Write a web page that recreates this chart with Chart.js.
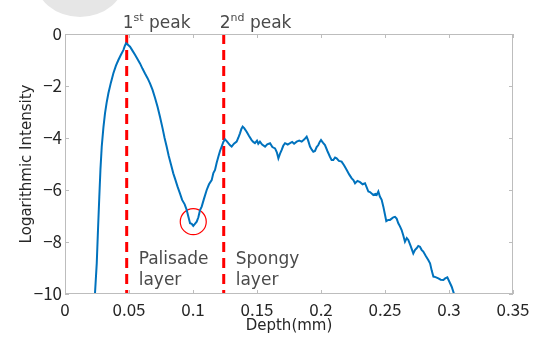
<!DOCTYPE html>
<html>
<head>
<meta charset="utf-8">
<script src="https://cdn.jsdelivr.net/npm/chart.js@4"></script>
<style>
  body { margin: 0; background: #fff; }
  #wrap { position: relative; width: 535px; height: 338px; }
  #blob { position: absolute; left: 35px; top: -60px; width: 90px; height: 77px;
          border-radius: 50%; background: #e6e6e6; }
  canvas { position: absolute; left: 0; top: 0; }
</style>
</head>
<body>
<div id="wrap">
  <div id="blob"></div>
  <canvas id="depthplot"></canvas>
</div>
<script>
const depth = [
  0.0226, 0.0234, 0.0248, 0.0258, 0.0268, 0.0277, 0.0287, 0.0300, 0.03125, 0.0325,
  0.0339, 0.0358, 0.0378, 0.0398, 0.0417, 0.0437, 0.0456, 0.0468, 0.0477, 0.0488,
  0.0498, 0.0508, 0.0527, 0.0547, 0.0566, 0.0586, 0.0605, 0.0625, 0.0645, 0.0664,
  0.0684, 0.0703, 0.0723, 0.0742, 0.0762, 0.0778, 0.0794, 0.0810, 0.0828, 0.0846,
  0.0862, 0.0880, 0.0898, 0.0915, 0.0935, 0.0951, 0.0965, 0.0977, 0.0990, 0.1002,
  0.1015, 0.1029, 0.1042, 0.1055, 0.1068, 0.1085, 0.1107, 0.1125, 0.1146, 0.1159,
  0.1172, 0.1185, 0.1198, 0.1211, 0.1224, 0.1237, 0.1250, 0.1263, 0.1276, 0.1290,
  0.1302, 0.1320, 0.1341, 0.1355, 0.1367, 0.1378, 0.1388, 0.1400, 0.1419, 0.1438,
  0.1458, 0.1471, 0.1484, 0.1500, 0.1510, 0.1523, 0.1540, 0.1563, 0.1580, 0.1602,
  0.1620, 0.1641, 0.1655, 0.1667, 0.1680, 0.1693, 0.1705, 0.1719, 0.1740, 0.1758,
  0.1775, 0.1790, 0.1810, 0.1830, 0.1849, 0.1870, 0.1888, 0.1900, 0.1914, 0.1928,
  0.1940, 0.1953, 0.1966, 0.1979, 0.1990, 0.2000, 0.2015, 0.2031, 0.2050, 0.2070,
  0.2083, 0.2096, 0.2110, 0.2122, 0.2140, 0.2161, 0.2180, 0.2201, 0.2220, 0.2240,
  0.2253, 0.2266, 0.2285, 0.2305, 0.2325, 0.2344, 0.2357, 0.2370, 0.2383, 0.2409,
  0.2425, 0.2435, 0.2448, 0.2460, 0.2474, 0.2487, 0.2500, 0.2510, 0.2525, 0.2539,
  0.2552, 0.2565, 0.2578, 0.2591, 0.2604, 0.2617, 0.2630, 0.2643, 0.2656, 0.2670,
  0.2682, 0.2700, 0.2721, 0.2735, 0.2747, 0.2760, 0.2773, 0.2786, 0.2799, 0.2820,
  0.2838, 0.2852, 0.2865, 0.2878, 0.2895, 0.2917, 0.2935, 0.2956, 0.2970, 0.2987,
  0.3003, 0.3021, 0.3042, 0.3050
]
const logIntensity = [
  -10.6, -10.0, -8.82, -7.5, -6.26, -5.2, -4.33, -3.6, -3.05, -2.65,
  -2.28, -1.88, -1.51, -1.22, -1.0, -0.80, -0.62, -0.45, -0.36, -0.40,
  -0.44, -0.49, -0.64, -0.80, -0.96, -1.13, -1.33, -1.52, -1.70, -1.90,
  -2.15, -2.45, -2.80, -3.18, -3.62, -4.0, -4.33, -4.68, -5.02, -5.36,
  -5.60, -5.88, -6.13, -6.38, -6.55, -6.77, -7.05, -7.28, -7.30, -7.38,
  -7.30, -7.22, -7.05, -6.77, -6.64, -6.35, -6.0, -5.78, -5.62, -5.35,
  -5.23, -4.95, -4.72, -4.50, -4.33, -4.15, -4.05, -4.12, -4.20, -4.28,
  -4.33, -4.22, -4.14, -3.98, -3.82, -3.65, -3.56, -3.62, -3.76, -3.92,
  -4.08, -4.15, -4.20, -4.10, -4.22, -4.14, -4.25, -4.33, -4.24, -4.20,
  -4.35, -4.40, -4.55, -4.78, -4.60, -4.46, -4.30, -4.20, -4.25, -4.20,
  -4.15, -4.22, -4.14, -4.10, -4.14, -4.05, -3.95, -4.10, -4.33, -4.45,
  -4.53, -4.50, -4.35, -4.27, -4.15, -4.08, -4.18, -4.27, -4.50, -4.72,
  -4.85, -4.85, -4.75, -4.78, -4.88, -4.91, -5.05, -5.23, -5.40, -5.55,
  -5.62, -5.74, -5.65, -5.70, -5.78, -5.74, -5.90, -6.06, -6.08, -6.19,
  -6.15, -6.19, -6.06, -6.25, -6.38, -6.64, -6.95, -7.20, -7.15, -7.15,
  -7.10, -7.05, -7.03, -7.10, -7.28, -7.40, -7.54, -7.75, -7.99, -7.85,
  -7.92, -8.15, -8.44, -8.30, -8.24, -8.15, -8.18, -8.30, -8.37, -8.55,
  -8.69, -8.82, -9.10, -9.33, -9.35, -9.40, -9.45, -9.46, -9.40, -9.36,
  -9.53, -9.72, -10.04, -10.3
]
// peak depths and the marked minimum
const peakDepths = [0.0482, 0.124]
const peakNames = [["1", "st"], ["2", "nd"]]
const minimum = {x: 0.1002, y: -7.22}
const layerNames = [["Palisade", "layer"], ["Spongy", "layer"]]

const TICKFONT = '"Noto Sans CJK JP", "Noto Sans", sans-serif'
const TEXTFONT = '"DejaVu Sans", sans-serif'

function fmtTick(v) {
  const s = String(Number(v.toFixed(2)))
  return s.replace('-', '\u2212')
}

// box around the plot with MATLAB style inward ticks, plus the annotations
const boxPlugin = {
  id: 'box',
  afterDatasetsDraw(chart) {
    const {ctx, chartArea: a, scales} = chart
    ctx.save()
    ctx.strokeStyle = '#bdbdbd'
    ctx.lineWidth = 1
    ctx.strokeRect(a.left + 0.5, a.top + 0.5, a.right - a.left - 1, a.bottom - a.top - 1)
    ctx.beginPath()
    scales.x.ticks.forEach(t => {
      const px = Math.round(scales.x.getPixelForValue(t.value)) + 0.5
      ctx.moveTo(px, a.bottom); ctx.lineTo(px, a.bottom - 4)
      ctx.moveTo(px, a.top); ctx.lineTo(px, a.top + 4)
    })
    scales.y.ticks.forEach(t => {
      const py = Math.round(scales.y.getPixelForValue(t.value)) + 0.5
      ctx.moveTo(a.left, py); ctx.lineTo(a.left + 4, py)
      ctx.moveTo(a.right, py); ctx.lineTo(a.right - 4, py)
    })
    ctx.stroke()
    ctx.restore()
  },
  afterDraw(chart) {
    const {ctx, chartArea: a, scales} = chart
    ctx.save()
    ctx.fillStyle = '#4a4a4a'
    ctx.textBaseline = 'alphabetic'
    // peak labels above the plot
    peakDepths.forEach((d, i) => {
      let x = scales.x.getPixelForValue(d) - 4
      const y = a.top - 6
      ctx.font = '17px ' + TEXTFONT
      ctx.fillText(peakNames[i][0], x, y)
      x += ctx.measureText(peakNames[i][0]).width
      ctx.font = '11px ' + TEXTFONT
      ctx.fillText(peakNames[i][1], x, y - 7)
      x += ctx.measureText(peakNames[i][1]).width
      ctx.font = '17px ' + TEXTFONT
      ctx.fillText(' peak', x, y)
    })
    // layer names between the dashed lines
    ctx.font = '17px ' + TEXTFONT
    layerNames.forEach((lines, i) => {
      const x = scales.x.getPixelForValue(peakDepths[i]) + 12
      lines.forEach((txt, j) => {
        ctx.fillText(txt, x, scales.y.getPixelForValue(-8.85) + j * 21)
      })
    })
    ctx.restore()
  }
}

const peakSets = peakDepths.map(d => ({
  data: [{x: d, y: 0}, {x: d, y: -10}],
  showLine: true,
  borderColor: '#ff0000',
  borderWidth: 3,
  borderDash: [10, 6],
  pointRadius: 0
}))

new Chart(document.getElementById('depthplot'), {
  type: 'scatter',
  data: {
    datasets: [
      {
        data: depth.map((d, i) => ({x: d, y: logIntensity[i]})),
        showLine: true,
        borderColor: '#0072bd',
        borderWidth: 2,
        pointRadius: 0,
        tension: 0
      },
      ...peakSets,
      {
        data: [minimum],
        pointRadius: 13,
        pointStyle: 'circle',
        borderColor: '#ff0000',
        borderWidth: 1.2,
        backgroundColor: 'rgba(0,0,0,0)'
      }
    ]
  },
  options: {
    responsive: true,
    maintainAspectRatio: false,
    animation: false,
    layout: {padding: {top: 34, right: 22, left: 0, bottom: 0}},
    plugins: {legend: {display: false}, tooltip: {enabled: false}},
    scales: {
      x: {
        type: 'linear', min: 0, max: 0.35,
        afterFit: s => { s.height = 44 },
        grid: {display: false, drawTicks: false},
        border: {display: false},
        ticks: {stepSize: 0.05, padding: 5, color: '#262626',
                font: {family: TICKFONT, size: 17}, callback: fmtTick, maxRotation: 0},
        title: {display: true, text: 'Depth(mm)', color: '#262626',
                font: {family: TEXTFONT, size: 15}, padding: {top: 0, bottom: 3}}
      },
      y: {
        type: 'linear', min: -10, max: 0,
        afterFit: s => { s.width = 65 },
        grid: {display: false, drawTicks: false},
        border: {display: false},
        ticks: {stepSize: 2, padding: 3, color: '#262626',
                font: {family: TICKFONT, size: 17}, callback: fmtTick},
        title: {display: true, text: 'Logarithmic Intensity', color: '#262626',
                font: {family: TEXTFONT, size: 15}, padding: {top: 18, bottom: 0}}
      }
    }
  },
  plugins: [boxPlugin]
})
</script>
</body>
</html>
